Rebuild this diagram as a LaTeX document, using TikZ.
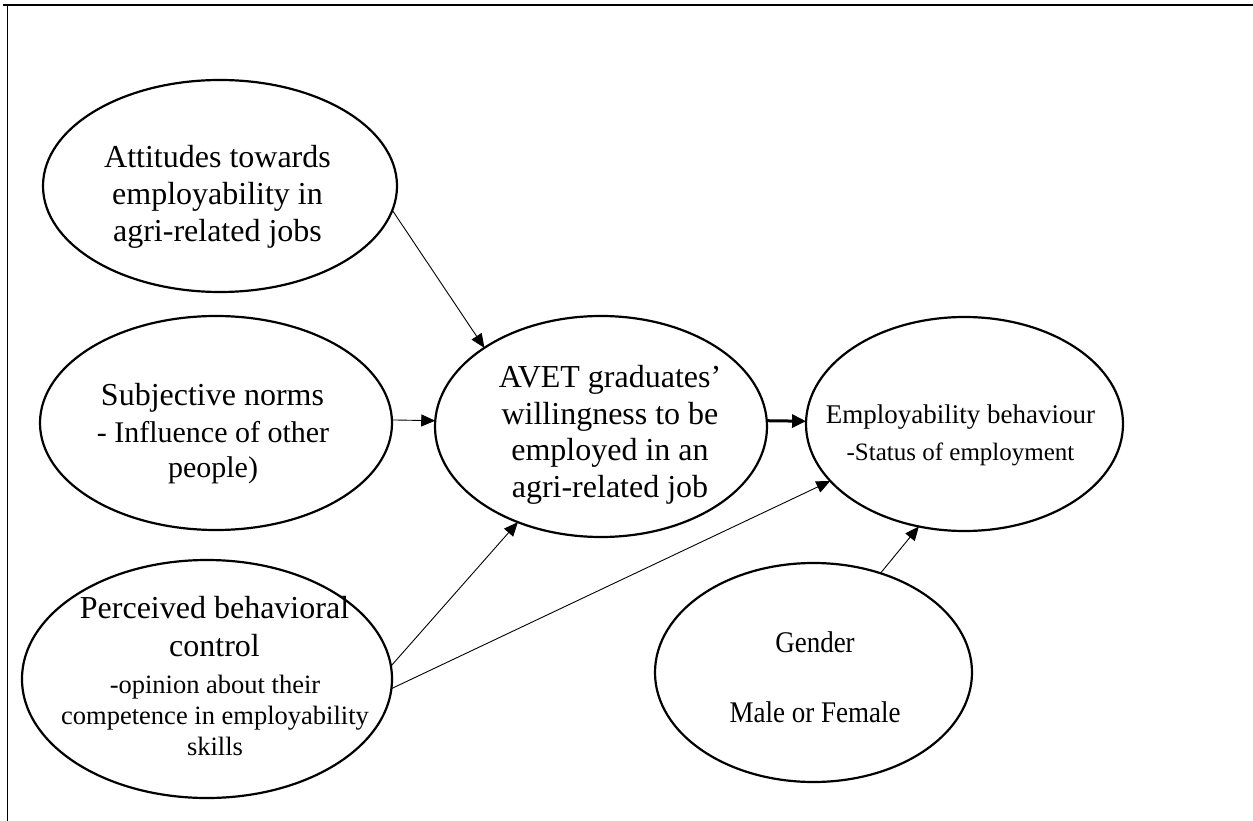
\documentclass[tikz,border=0pt]{standalone}
\usepackage{fontspec}
\setmainfont{Liberation Serif}
\newfontfamily\narrowserif[FakeStretch=0.9]{Liberation Serif}
\usetikzlibrary{arrows.meta,shapes.geometric}
\begin{document}
\begin{tikzpicture}[x=1pt,y=-1pt,
  oval/.style 2 args={draw,ellipse,line width=2.2pt,inner sep=0pt,outer sep=0pt,minimum width=#1,minimum height=#2},
  txt/.style={align=center,inner sep=0pt,anchor=base},
  big/.style={font=\fontsize{32pt}{37pt}\selectfont},
  arr/.style={-{Triangle[length=14pt,width=12pt]},line width=0.9pt},
  thickarr/.style={-{Triangle[length=14pt,width=13pt]},line width=3pt},
]
\useasboundingbox (0,0) rectangle (1253,821);
% frame
\draw[line width=2.3pt] (3,5) -- (1253,5);
\draw[line width=1.8pt] (7.5,4) -- (7.5,821);

% ellipses
\node[oval={354}{212}] (att) at (220,186) {};
\node[oval={352}{214}] (subj) at (216,423) {};
\node[oval={370}{238}] (pbc) at (207,679) {};
\node[oval={332}{221}] (avet) at (601,426.5) {};
\node[oval={317}{214}] (emp) at (964.5,424) {};
\node[oval={317}{219}] (gen) at (813.5,672.5) {};

% texts (anchor base = baseline of the last line)
\node[txt,big] (attT) at (217.5,242) {Attitudes towards\\employability in\\agri-related jobs};
\node[txt,big] (subjT) at (212.5,405) {Subjective norms};
\node[txt,font=\fontsize{30pt}{35pt}\selectfont] (subjS) at (213,477) {- Influence of other\\people)};
\node[txt,font=\fontsize{32pt}{38pt}\selectfont] (pbcT) at (214.5,656) {Perceived behavioral\\control};
\node[txt,font=\fontsize{26.5pt}{31pt}\selectfont] (pbcS) at (215,755) {-opinion about their\\competence in employability\\skills};
\node[txt,font=\fontsize{32pt}{36.5pt}\selectfont] (avetT) at (610,497) {AVET graduates'\\willingness to be\\employed in an\\agri-related job};
\node[txt,font=\fontsize{27pt}{37pt}\selectfont] (empT) at (960.5,423) {Employability behaviour};
\node[txt,font=\fontsize{25pt}{37pt}\selectfont] (empS) at (960.5,460) {-Status of employment};
\node[txt,font=\narrowserif\fontsize{30pt}{70pt}\selectfont] (genT) at (815,722) {Gender\\Male or Female};

% connectors
\draw[arr] (att.-8.6) -- (avet.146.3);
\draw[arr] (subj.1) -- (avet.178);
\draw[thickarr] (avet.2) -- (emp.179);
\draw[arr] (pbc.4.3) -- (avet.-131.4);
\draw[arr] (pbc.-3.4) -- (emp.203.2);
\draw[arr] (gen.56.8) -- (emp.246.4);
\end{tikzpicture}
\end{document}
